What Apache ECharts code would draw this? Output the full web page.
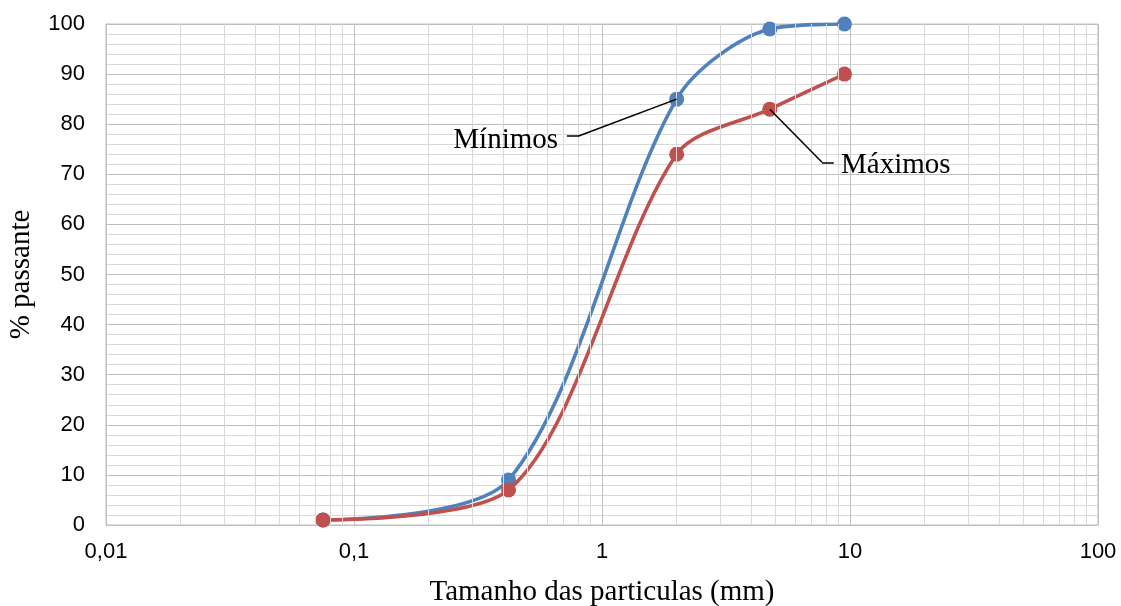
<!DOCTYPE html>
<html>
<head>
<meta charset="utf-8">
<script src="https://cdn.jsdelivr.net/npm/echarts@6/dist/echarts.min.js"></script>
<style>
  html, body { margin: 0; padding: 0; background: #fff; }
  #chart-container { width: 1121px; height: 606px; }
</style>
</head>
<body>
<div id="chart-container"></div>
<script>
// aberturas das peneiras (mm) e % passante
var sieves = [0.075, 0.42, 2.0, 4.75, 9.5];
var minimos = [1, 9, 85, 99, 100];
var maximos = [1, 7, 74, 83, 90];
var xTicks = [0.01, 0.1, 1, 10, 100];

var BLUE = '#4F81BD';
var RED = '#C0504D';

function pairs(xs, ys) {
    var out = [];
    for (var i = 0; i < xs.length; i++) out.push([xs[i], ys[i]]);
    return out;
}

// linhas verticais secundarias (2..9 de cada decada)
var minorX = [];
for (var d = 0; d < xTicks.length - 1; d++) {
    for (var k = 2; k <= 9; k++) minorX.push({ xAxis: Number((xTicks[d] * k).toPrecision(6)) });
}

var option = {
    animation: false,
    grid: {
        left: 106, right: 23, top: 24, bottom: 81,
        outerBoundsMode: 'none',
        containLabel: false,
        show: true, borderColor: '#bfbfbf', borderWidth: 1
    },
    xAxis: {
        type: 'log',
        logBase: 10,
        min: 0.01,
        max: 100,
        name: 'Tamanho das particulas (mm)',
        nameLocation: 'middle',
        nameGap: 53,
        nameTextStyle: { fontFamily: 'Liberation Serif', fontSize: 29, color: '#000' },
        axisLine: { lineStyle: { color: '#bfbfbf' } },
        axisTick: { show: false },
        axisLabel: {
            margin: 16,
            fontFamily: 'Liberation Sans', fontSize: 22, color: '#000',
            formatter: function (v) { return String(Number(v.toPrecision(6))).replace('.', ','); }
        },
        splitLine: { show: true, lineStyle: { color: '#bfbfbf', width: 1 } }
    },
    yAxis: {
        type: 'value',
        min: 0, max: 100, interval: 10,
        name: '% passante',
        nameLocation: 'middle',
        nameGap: 70,
        nameTextStyle: { fontFamily: 'Liberation Serif', fontSize: 29, color: '#000' },
        axisLine: { show: true, lineStyle: { color: '#bfbfbf' } },
        axisTick: { show: false },
        axisLabel: { margin: 21, fontFamily: 'Liberation Sans', fontSize: 22, color: '#000' },
        splitLine: { show: true, lineStyle: { color: '#bfbfbf', width: 1 } },
        minorTick: { show: false, splitNumber: 5 },
        minorSplitLine: { show: true, lineStyle: { color: '#d9d9d9', width: 1 } }
    },
    series: [
        {
            type: 'line',
            name: 'grade',
            data: [],
            silent: true,
            z: 1,
            markLine: {
                silent: true,
                symbol: 'none',
                label: { show: false },
                lineStyle: { color: '#d9d9d9', width: 1, type: 'solid' },
                data: minorX
            }
        },
        {
            type: 'line',
            name: 'Mínimos',
            data: pairs(sieves, minimos),
            smooth: 0.3,
            smoothConstraint: false,
            symbol: 'circle',
            symbolSize: 15,
            lineStyle: { color: BLUE, width: 3.6 },
            itemStyle: { color: BLUE },
            z: 3,
            markLine: {
                silent: true,
                symbol: 'none',
                label: { show: false },
                lineStyle: { color: '#000', width: 1.5, type: 'solid' },
                data: [
                    [{ coord: [0.722, 77.6] }, { coord: [0.80, 77.6] }],
                    [{ coord: [0.80, 77.6] }, { coord: [2.0, 85] }]
                ]
            },
            markPoint: {
                silent: true,
                symbol: 'circle',
                symbolSize: 0,
                label: {
                    show: true, position: 'left', distance: 0,
                    fontFamily: 'Liberation Serif', fontSize: 29, color: '#000',
                    formatter: 'Mínimos'
                },
                data: [{ coord: [0.665, 76.8] }]
            }
        },
        {
            type: 'line',
            name: 'Máximos',
            data: pairs(sieves, maximos),
            smooth: 0.3,
            smoothConstraint: false,
            symbol: 'circle',
            symbolSize: 15,
            lineStyle: { color: RED, width: 3.6 },
            itemStyle: { color: RED },
            z: 4,
            markLine: {
                silent: true,
                symbol: 'none',
                label: { show: false },
                lineStyle: { color: '#000', width: 1.5, type: 'solid' },
                data: [
                    [{ coord: [4.75, 83] }, { coord: [7.71, 72.4] }],
                    [{ coord: [7.71, 72.4] }, { coord: [8.6, 72.4] }]
                ]
            },
            markPoint: {
                silent: true,
                symbol: 'circle',
                symbolSize: 0,
                label: {
                    show: true, position: 'right', distance: 0,
                    fontFamily: 'Liberation Serif', fontSize: 29, color: '#000',
                    formatter: 'Máximos'
                },
                data: [{ coord: [9.2, 71.8] }]
            }
        }
    ]
};

var myChart = echarts.init(document.getElementById('chart-container'));
myChart.setOption(option);
</script>
</body>
</html>
